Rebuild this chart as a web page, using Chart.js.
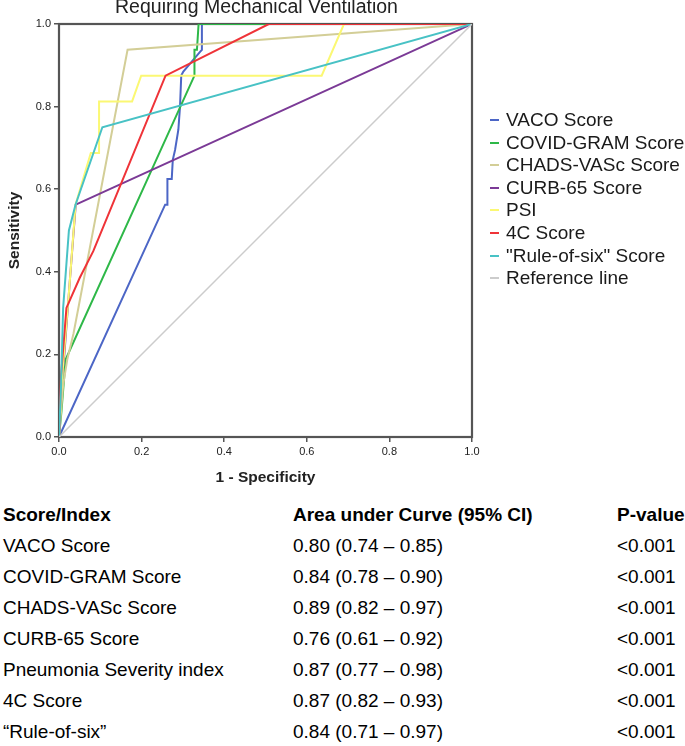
<!DOCTYPE html>
<html>
<head>
<meta charset="utf-8">
<script src="https://cdn.jsdelivr.net/npm/chart.js@4.4.1/dist/chart.umd.min.js"></script>
<style>
  body { margin: 0; background: #fff; font-family: "Liberation Sans", Arial, sans-serif; }
  #wrap { position: relative; width: 685px; height: 746px; overflow: hidden; }
  #roc { position: absolute; left: 0; top: -4px; }
  .leg { position: absolute; left: 489px; height: 22px; font-size: 19px; line-height: 22px; color: #1a1a1a; white-space: nowrap; }
  .leg i { position: absolute; left: 1px; top: 10px; width: 9px; height: 2px; }
  .leg span { position: absolute; left: 17px; top: 0; }
  .cell { position: absolute; font-size: 19px; line-height: 22px; color: #000; white-space: nowrap; }
  .head { font-weight: bold; }
</style>
</head>
<body>
<div id="wrap">
  <canvas id="roc" width="513" height="499"></canvas>
</div>
<script>
/* ---- ROC data (1 - specificity / sensitivity) ---- */
const seriesNames = ["VACO Score", "COVID-GRAM Score", "CHADS-VASc Score", "CURB-65 Score",
  "PSI", "4C Score", "\"Rule-of-six\" Score", "Reference line"];
const seriesColors = ["#4c66c6", "#2eb848", "#d3ce97", "#7b3a96",
  "#fbf873", "#ef3338", "#48c2c5", "#cccccc"];

const vacoX = [0, 0.257, 0.2625, 0.2625, 0.273, 0.2755, 0.281, 0.289, 0.293, 0.296, 0.301, 0.342, 0.346, 0.346, 1];
const vacoY = [0, 0.5625, 0.5625, 0.625, 0.625, 0.671, 0.695, 0.744, 0.8, 0.875, 0.885, 0.933, 0.9375, 1, 1];

const gramX = [0, 0.006, 0.016, 0.328, 0.328, 0.334, 0.338, 1];
const gramY = [0, 0.0625, 0.1875, 0.875, 0.9375, 0.9375, 1, 1];

const chadsX = [0, 0.01, 0.02, 0.035, 0.166, 1];
const chadsY = [0, 0.125, 0.1875, 0.25, 0.9375, 1];

const curbX = [0, 0.005, 0.012, 0.026, 0.0405, 1];
const curbY = [0, 0.125, 0.1875, 0.375, 0.5625, 1];

const psiX = [0, 0.006, 0.026, 0.04, 0.077, 0.097, 0.097, 0.177, 0.199, 0.636, 0.69, 1];
const psiY = [0, 0.125, 0.375, 0.5625, 0.6875, 0.6875, 0.8125, 0.8125, 0.875, 0.875, 1, 1];

const fourCX = [0, 0.005, 0.018, 0.05, 0.083, 0.258, 0.508, 1];
const fourCY = [0, 0.15, 0.3125, 0.385, 0.45, 0.875, 1, 1];

const sixX = [0, 0.005, 0.01, 0.024, 0.04, 0.105, 1];
const sixY = [0, 0.125, 0.3125, 0.5, 0.5625, 0.75, 1];

const refX = [0, 1];
const refY = [0, 1];

const xTickLabels = ["0.0", "0.2", "0.4", "0.6", "0.8", "1.0"];
const yTickLabels = ["0.0", "0.2", "0.4", "0.6", "0.8", "1.0"];

/* ---- table under the chart ---- */
const tableHead = ["Score/Index", "Area under Curve (95% CI)", "P-value"];
const tableNames = ["VACO Score", "COVID-GRAM Score", "CHADS-VASc Score", "CURB-65 Score",
  "Pneumonia Severity index", "4C Score", "\u201cRule-of-six\u201d"];
const tableAuc = ["0.80 (0.74 \u2013 0.85)", "0.84 (0.78 \u2013 0.90)", "0.89 (0.82 \u2013 0.97)",
  "0.76 (0.61 \u2013 0.92)", "0.87 (0.77 \u2013 0.98)", "0.87 (0.82 \u2013 0.93)", "0.84 (0.71 \u2013 0.97)"];
const tableP = ["<0.001", "<0.001", "<0.001", "<0.001", "<0.001", "<0.001", "<0.001"];

const seriesX = [vacoX, gramX, chadsX, curbX, psiX, fourCX, sixX, refX];
const seriesY = [vacoY, gramY, chadsY, curbY, psiY, fourCY, sixY, refY];

const toPoints = (xs, ys) => xs.map((x, i) => ({ x: x, y: ys[i] }));

const datasets = seriesNames.map((name, i) => ({
  label: name,
  data: toPoints(seriesX[i], seriesY[i]),
  borderColor: seriesColors[i],
  backgroundColor: seriesColors[i],
  borderWidth: i === 7 ? 1.5 : 2,
  showLine: true,
  pointRadius: 0,
  tension: 0,
  order: 7 - i
}));

/* frame round the plot area */
const framePlugin = {
  id: "frame",
  beforeDatasetsDraw(chart) {
    const { ctx, chartArea: a } = chart;
    ctx.save();
    ctx.strokeStyle = "#555";
    ctx.lineWidth = 2.2;
    ctx.strokeRect(a.left, a.top, a.right - a.left, a.bottom - a.top);
    ctx.restore();
  }
};

Chart.defaults.font.family = "'Liberation Sans', Arial, sans-serif";

new Chart(document.getElementById("roc"), {
  type: "scatter",
  data: { datasets: datasets },
  plugins: [framePlugin],
  options: {
    responsive: false,
    animation: false,
    layout: { padding: 0 },
    plugins: {
      legend: { display: false },
      tooltip: { enabled: false },
      title: {
        display: true,
        text: "Requiring Mechanical Ventilation",
        color: "#222",
        font: { size: 19.5, weight: "normal" },
        padding: { top: 0, bottom: 4.6 }
      }
    },
    scales: {
      x: {
        type: "linear",
        min: 0,
        max: 1,
        afterFit(s) { s.height = 58; },
        ticks: {
          stepSize: 0.2,
          autoSkip: false,
          maxRotation: 0,
          padding: 3,
          color: "#222",
          font: { size: 11 },
          callback: (v, i) => xTickLabels[i]
        },
        grid: { drawOnChartArea: false, drawTicks: true, tickLength: 5, color: "#555", lineWidth: 1.5 },
        border: { display: false },
        title: {
          display: true,
          text: "1 - Specificity",
          color: "#222",
          font: { size: 15.5, weight: "bold" },
          padding: { top: 4, bottom: 7.5 }
        }
      },
      y: {
        type: "linear",
        min: 0,
        max: 1,
        afterFit(s) { s.width = 59; },
        ticks: {
          stepSize: 0.2,
          autoSkip: false,
          padding: 3,
          color: "#222",
          font: { size: 11 },
          callback: (v, i) => yTickLabels[i]
        },
        grid: { drawOnChartArea: false, drawTicks: true, tickLength: 5, color: "#555", lineWidth: 1.5 },
        border: { display: false },
        title: {
          display: true,
          text: "Sensitivity",
          color: "#222",
          font: { size: 15.5, weight: "bold" },
          padding: { top: 5.7, bottom: 0 }
        }
      },
      /* empty right-hand axis, only keeps space right of the plot */
      yRight: {
        type: "linear",
        position: "right",
        min: 0,
        max: 1,
        afterFit(s) { s.width = 41; },
        ticks: { display: false },
        grid: { display: false },
        border: { display: false }
      }
    }
  }
});

/* ---- legend and table as page text ---- */
const wrap = document.getElementById("wrap");
seriesNames.forEach((name, i) => {
  const row = document.createElement("div");
  row.className = "leg";
  row.style.top = (120 + i * 22.6 - 11) + "px";
  const sw = document.createElement("i");
  sw.style.background = seriesColors[i];
  const tx = document.createElement("span");
  tx.textContent = name;
  row.appendChild(sw);
  row.appendChild(tx);
  wrap.appendChild(row);
});

const colLeft = [3, 293, 617];
function addCell(text, left, center, bold) {
  const c = document.createElement("div");
  c.className = bold ? "cell head" : "cell";
  c.style.left = left + "px";
  c.style.top = (center - 11) + "px";
  c.textContent = text;
  wrap.appendChild(c);
}
tableHead.forEach((t, j) => addCell(t, colLeft[j], 515, true));
tableNames.forEach((n, i) => {
  const center = 545.5 + i * 31;
  addCell(n, colLeft[0], center, false);
  addCell(tableAuc[i], colLeft[1], center, false);
  addCell(tableP[i], colLeft[2], center, false);
});
</script>
</body>
</html>
